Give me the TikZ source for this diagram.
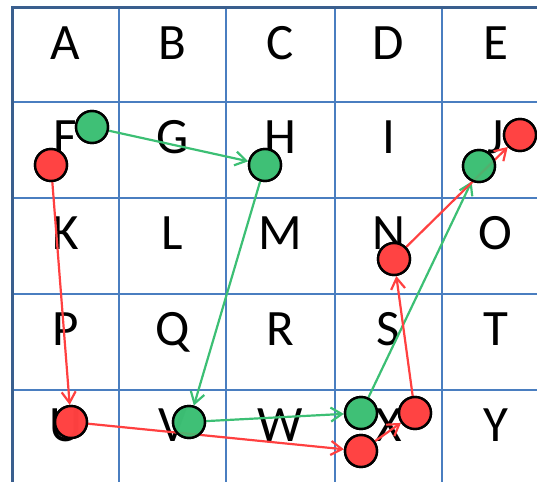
\documentclass[tikz,border=0pt]{standalone}
\usepackage{fontspec}
\setmainfont{Carlito}
\usetikzlibrary{arrows.meta}
\definecolor{GridBlue}{HTML}{4A7EC0}
\definecolor{EdgeBlue}{HTML}{3A5F8E}
\definecolor{DotRed}{HTML}{FF4040}
\definecolor{DotGreen}{HTML}{3CBF74}
\tikzset{
  cellletter/.style={font=\fontsize{51}{51}\selectfont,inner sep=0pt,text height=0.64em,text depth=0pt},
  dot/.style={circle,draw=black,line width=2.4pt,minimum size=32pt,inner sep=0pt,fill opacity=0.88},
  reddot/.style={dot,fill=DotRed},
  greendot/.style={dot,fill=DotGreen},
  redpath/.style={DotRed,line width=2.2pt,-{Straight Barb[length=11pt,width=14pt]}},
  greenpath/.style={DotGreen,line width=2.2pt,-{Straight Barb[length=11pt,width=14pt]}},
}
\begin{document}
\begin{tikzpicture}[x=1pt,y=-1pt]
  \useasboundingbox (0,0) rectangle (537,481);
  \clip (0,0) rectangle (537,481);
  % grid
  \foreach \x in {119,226,335,442}
    \draw[GridBlue,line width=1.6pt] (\x,7.5) -- (\x,490);
  \foreach \y in {102,198,294,390}
    \draw[GridBlue,line width=1.6pt] (12,\y) -- (550,\y);
  \draw[EdgeBlue,line width=3pt] (12,490) -- (12,7.5) -- (550,7.5);
  % letters
  \foreach \l [count=\i from 0] in {A,B,C,D,E,F,G,H,I,J,K,L,M,N,O,P,Q,R,S,T,U,V,W,X,Y} {
    \pgfmathtruncatemacro{\c}{mod(\i,5)}
    \pgfmathtruncatemacro{\r}{div(\i,5)}
    \pgfmathsetmacro{\cx}{{65.5,172.5,280.5,388.5,495.5}[\c]}
    \pgfmathsetmacro{\cy}{{56,150,246,342,438}[\r]}
    \node[cellletter] (\l) at (\cx,\cy) {\l};
  }
  % red route
  \coordinate (r1) at (51,165);
  \coordinate (r2) at (71,422);
  \coordinate (r3) at (361,451);
  \coordinate (r4) at (415,413);
  \coordinate (r5) at (394,259);
  \coordinate (r6) at (520,135);
  % green route
  \coordinate (g1) at (92,127);
  \coordinate (g2) at (265,165);
  \coordinate (g3) at (189,422);
  \coordinate (g4) at (361,413);
  \coordinate (g5) at (479,166);
  \path (r1) node[reddot] (R1) {} (r2) node[reddot] (R2) {} (r3) node[reddot] (R3) {}
        (r4) node[reddot] (R4) {} (r5) node[reddot] (R5) {} (r6) node[reddot] (R6) {};
  \path (g1) node[greendot] (G1) {} (g2) node[greendot] (G2) {} (g3) node[greendot] (G3) {}
        (g4) node[greendot] (G4) {} (g5) node[greendot] (G5) {};
  \draw[greenpath] (G1) -- (G2);
  \draw[greenpath] (G2) -- (G3);
  \draw[greenpath] (G3) -- (G4);
  \draw[greenpath] (G4) -- (G5);
  \draw[redpath] (R1) -- (R2);
  \draw[redpath] (R2) -- (R3);
  \draw[redpath] (R3) -- (R4);
  \draw[redpath] (R4) -- (R5);
  \draw[redpath] (R5) -- (R6);
  % dots on top
  \foreach \n in {1,...,6} \node[reddot] at (r\n) {};
  \foreach \n in {1,...,5} \node[greendot] at (g\n) {};
\end{tikzpicture}
\end{document}
